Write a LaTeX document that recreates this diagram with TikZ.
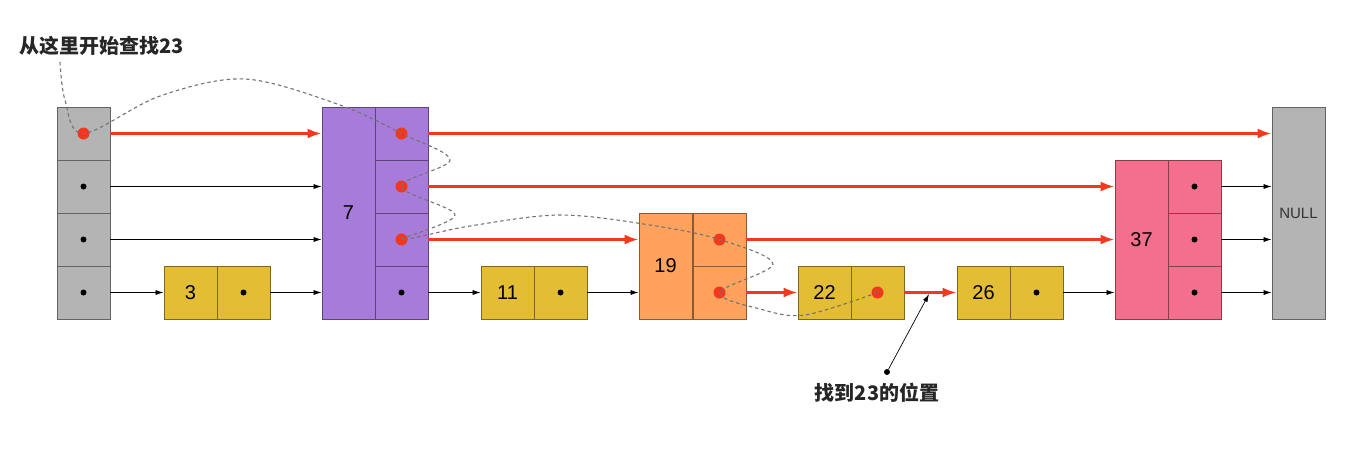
\documentclass[tikz,border=0pt]{standalone}
\usepackage{fontspec}
\setmainfont{Liberation Sans}
\newfontfamily\cjk{Noto Sans CJK SC}
\usepackage{xcolor}
\usepackage{tikz}
\usetikzlibrary{
    arrows.meta,
    positioning,
    calc
}
\definecolor{headgray}{HTML}{B4B4B4}
\definecolor{lvpurple}{HTML}{A77BD9}
\definecolor{lvorange}{HTML}{FFA25E}
\definecolor{lvyellow}{HTML}{E3BD33}
\definecolor{lvpink}{HTML}{F36F8B}
\definecolor{hotred}{HTML}{F2391E}

\begin{document}
\begin{tikzpicture}[
    x=1pt, y=-1pt,
    cell/.style={
        rectangle,
        draw=#1!55!black,
        fill=#1,
        line width=0.8pt,
        minimum width=53pt,
        minimum height=53pt,
        inner sep=0pt,
        font=\fontsize{20}{23}\selectfont
    },
    ptr/.style={draw=black, line width=0.7pt, -{Latex[length=8pt,width=5pt]}},
    hot/.style={draw=hotred, line width=2.6pt, -{Latex[length=14pt,width=10pt]}},
    trail/.style={draw=black!55, line width=1.1pt, dash pattern=on 3.5pt off 3pt},
    note/.style={font=\cjk\bfseries\fontsize{20}{22}\selectfont, text=black!85}
]
\useasboundingbox (0,0) rectangle (1369,451);

% Head column
\foreach \r/\y in {1/133.5, 2/186.5, 3/239.5, 4/292.5}
    \node[cell=headgray] (h\r) at (83.5,\y) {};

% Level 1 nodes
\node[cell=lvyellow] (n3) at (190.5,292.5) {3};
\node[cell=lvyellow] (n3p) at (243.5,292.5) {};
\node[cell=lvyellow] (n11) at (507.5,292.5) {11};
\node[cell=lvyellow] (n11p) at (560.5,292.5) {};
\node[cell=lvyellow] (n22) at (824.5,292.5) {22};
\node[cell=lvyellow] (n22p) at (877.5,292.5) {};
\node[cell=lvyellow] (n26) at (983.5,292.5) {26};
\node[cell=lvyellow] (n26p) at (1036.5,292.5) {};

% Node 7 (4 levels)
\node[cell=lvpurple, minimum height=212pt] (n7) at (348.5,213) {7};
\node[cell=lvpurple] (n7a) at (401.5,133.5) {};
\node[cell=lvpurple] (n7b) at (401.5,186.5) {};
\node[cell=lvpurple] (n7c) at (401.5,239.5) {};
\node[cell=lvpurple] (n7d) at (401.5,292.5) {};

% Node 19 (2 levels)
\node[cell=lvorange, minimum height=106pt] (n19) at (665.5,266) {19};
\node[cell=lvorange] (n19a) at (719.5,239.5) {};
\node[cell=lvorange] (n19b) at (719.5,292.5) {};

% Node 37 (3 levels)
\node[cell=lvpink, minimum height=159pt] (n37) at (1141.5,239.5) {37};
\node[cell=lvpink] (n37a) at (1194.5,186.5) {};
\node[cell=lvpink] (n37b) at (1194.5,239.5) {};
\node[cell=lvpink] (n37c) at (1194.5,292.5) {};

% Tail
\node[cell=headgray, minimum height=212pt, font=\fontsize{15}{17}\selectfont, text=black!80] (null) at (1298.5,213) {NULL};

% Pointers, level 4
\draw[hot] (h1) -- (n7.west |- h1);
\draw[hot] (n7a) -- (null.west |- n7a);

% Pointers, level 3
\draw[ptr] (h2) -- (n7.west |- h2);
\draw[hot] (n7b) -- (n37.west |- n7b);
\draw[ptr] (n37a) -- (null.west |- n37a);

% Pointers, level 2
\draw[ptr] (h3) -- (n7.west |- h3);
\draw[hot] (n7c) -- (n19.west |- n7c);
\draw[hot] (n19a) -- (n37.west |- n19a);
\draw[ptr] (n37b) -- (null.west |- n37b);

% Pointers, level 1
\draw[ptr] (h4) -- (n3.west);
\draw[ptr] (n3p) -- (n7.west |- n3p);
\draw[ptr] (n7d) -- (n11.west);
\draw[ptr] (n11p) -- (n19.west |- n11p);
\draw[hot] (n19b) -- (n22.west);
\draw[hot] (n22p) -- (n26.west);
\draw[ptr] (n26p) -- (n37.west |- n26p);
\draw[ptr] (n37c) -- (null.west |- n37c);

% Dots
\foreach \d in {h1, n7a, n7b, n7c, n19a, n19b, n22p}
    \fill[hotred] (\d) circle (6pt);
\foreach \d in {h2, h3, h4, n3p, n7d, n11p, n26p, n37a, n37b, n37c}
    \fill[black] (\d) circle (3pt);

% Search path
\node[note] (start) at (102,46) {从这里开始查找23};
\draw[trail] plot[smooth, tension=0.55] coordinates {
    (60,62) (65,100) (h1) (160,96) (245,79) (340,105) (n7a) (450,160)
    (n7b) (455,215) (n7c) (470,226) (560,215) (650,225) (n19a) (773,264)
    (n19b) (760,309) (805,315) (n22p)};

% Found position
\node[note] (found) at (877,393) {找到23的位置};
\node[circle, fill=black, inner sep=0pt, minimum size=6pt] (fdot) at (887,372) {};
\coordinate (hit) at (929,294);
\draw[ptr] (fdot) -- (hit);

\end{tikzpicture}
\end{document}
